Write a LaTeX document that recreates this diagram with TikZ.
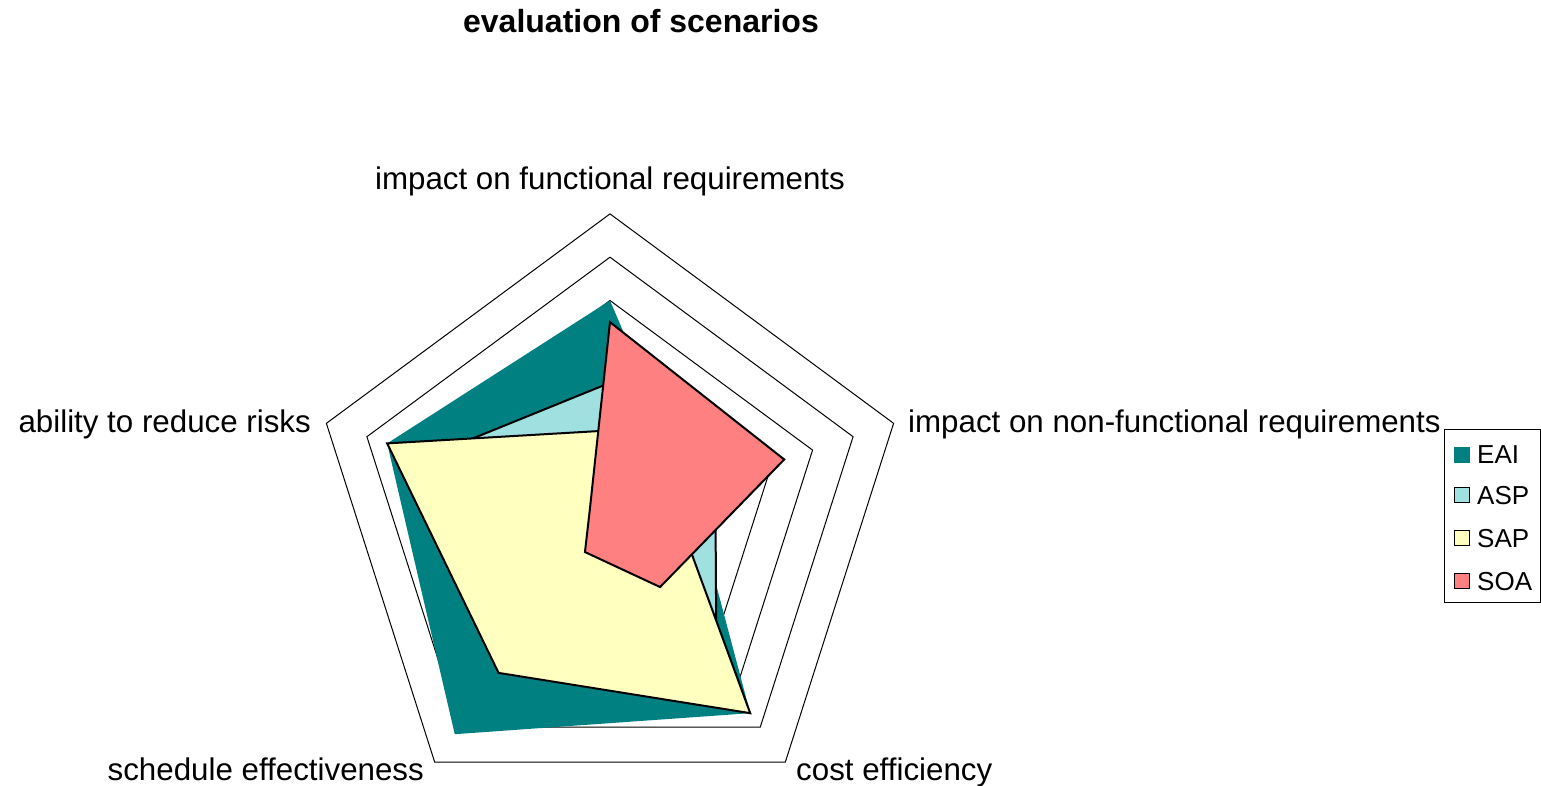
\documentclass[tikz,border=0pt]{standalone}
\usepackage{fontspec}
\setmainfont{Liberation Sans}

\definecolor{eai}{HTML}{008080}
\definecolor{asp}{HTML}{A0E0E0}
\definecolor{sap}{HTML}{FFFFC0}
\definecolor{soa}{HTML}{FF8080}

\tikzset{
  axislabel/.style={font=\fontsize{31.3}{37}\selectfont, inner sep=0pt},
  keylabel/.style={font=\fontsize{26}{31}\selectfont, inner sep=0pt, anchor=west},
  ring/.style={line width=1pt},
  series/.style={line width=2pt, line join=miter},
}

\begin{document}
\begin{tikzpicture}[x=1pt,y=1pt]
    \useasboundingbox (-610,-269) rectangle (931,517);

    \node[font=\bfseries\fontsize{32}{38}\selectfont, anchor=base, inner sep=0pt] (title) at (31,484) {evaluation of scenarios};

  \begin{scope}[x=42.6pt, y=43.3pt]
    % grid
    \foreach \r in {1,...,7}
        \draw[ring] (90:\r) -- (18:\r) -- (-54:\r) -- (-126:\r) -- (162:\r) -- cycle;

    \coordinate (E1) at (90:5);
    \coordinate (E2) at (18:2);
    \coordinate (E3) at (-54:5.6);
    \coordinate (E4) at (-126:6.2);
    \coordinate (E5) at (162:5.5);
    \coordinate (A1) at (90:3.1);
    \coordinate (A2) at (18:2.6);
    \coordinate (A3) at (-54:4.25);
    \coordinate (A4) at (-126:3.5);
    \coordinate (A5) at (162:4.5);
    \coordinate (S1) at (90:2);
    \coordinate (S2) at (18:1.5);
    \coordinate (S3) at (-54:5.6);
    \coordinate (S4) at (-126:4.45);
    \coordinate (S5) at (162:5.5);
    \coordinate (O1) at (90:4.5);
    \coordinate (O2) at (18:4.3);
    \coordinate (O3) at (-54:2);
    \coordinate (O4) at (-126:1);
    \coordinate (O5) at (162:0.5);

    \fill[eai] (E1) -- (E2) -- (E3) -- (E4) -- (E5) -- cycle; % EAI
    \draw[series, fill=asp] (A1) -- (A2) -- (A3) -- (A4) -- (A5) -- cycle; % ASP
    \draw[series, fill=sap] (S1) -- (S2) -- (S3) -- (S4) -- (S5) -- cycle; % SAP
    \draw[series, fill=soa] (O1) -- (O2) -- (O3) -- (O4) -- (O5) -- cycle; % SOA
  \end{scope}

    % axis labels
    \node[axislabel, anchor=base] (functional) at (0,327) {impact on functional requirements};
    \node[axislabel, anchor=base west] (nonfunctional) at (298,84) {impact on non-functional requirements};
    \node[axislabel, anchor=base west] (cost) at (186,-263) {cost efficiency};
    \node[axislabel, anchor=base east] (schedule) at (-186,-263) {schedule effectiveness};
    \node[axislabel, anchor=base east] (risks) at (-299,84) {ability to reduce risks};

    % legend
    \draw[line width=1pt] (834,87) rectangle (930,-86);
    \fill[eai] (844,54) rectangle (860,70);
    \draw[line width=1pt, fill=asp] (844,14) rectangle (859,29);
    \draw[line width=1pt, fill=sap] (844,-29) rectangle (859,-14);
    \draw[line width=1pt, fill=soa] (844,-72) rectangle (859,-57);
    \node[keylabel] (keyEAI) at (867,62) {EAI};
    \node[keylabel] (keyASP) at (867,21) {ASP};
    \node[keylabel] (keySAP) at (867,-22) {SAP};
    \node[keylabel] (keySOA) at (867,-65) {SOA};
\end{tikzpicture}
\end{document}
